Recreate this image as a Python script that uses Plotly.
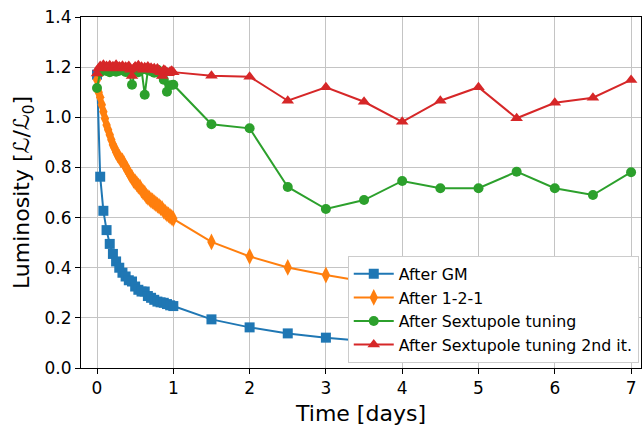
import plotly.graph_objects as go

# ---------------- data ----------------
# After GM: hourly during first day, then every 12 h
gm_t = [k / 24 for k in range(25)] + [1.5, 2.0, 2.5, 3.0, 3.5]
gm_L = [1.17, 0.763, 0.627, 0.550, 0.495, 0.455, 0.425, 0.400, 0.380, 0.365,
        0.350, 0.345, 0.325, 0.312, 0.305, 0.305, 0.287, 0.280, 0.272, 0.265,
        0.262, 0.260, 0.255, 0.250, 0.247,
        0.194, 0.162, 0.138, 0.121, 0.108]

# After 1-2-1: every 30 min during first day
o121_t = [k / 48 for k in range(49)] + [1.5, 2.0, 2.5, 3.0, 3.5]
o121_L = [1.15, 1.10, 1.08, 1.05, 1.022, 0.995, 0.969, 0.950, 0.930, 0.910,
          0.890, 0.878, 0.862, 0.850, 0.842, 0.830, 0.826, 0.815, 0.802, 0.792,
          0.780, 0.768, 0.760, 0.748, 0.742, 0.735, 0.726, 0.722, 0.710, 0.702,
          0.697, 0.686, 0.681, 0.676, 0.669, 0.666, 0.660, 0.656, 0.650, 0.646,
          0.640, 0.636, 0.626, 0.621, 0.615, 0.611, 0.605, 0.601, 0.595,
          0.503, 0.445, 0.401, 0.371, 0.345]

# After Sextupole tuning: hourly during first day, then every 12 h
sext_t = [k / 24 for k in range(25)] + [1.5, 2.0, 2.5, 3.0, 3.5, 4.0, 4.5,
                                        5.0, 5.5, 6.0, 6.5, 7.0]
sext_L = [1.117, 1.180, 1.188, 1.185, 1.180, 1.190, 1.182, 1.186, 1.190, 1.181,
          1.180, 1.130, 1.186, 1.180, 1.190, 1.090, 1.188, 1.184, 1.178, 1.190,
          1.172, 1.150, 1.102, 1.128, 1.130,
          0.972, 0.956, 0.722, 0.634, 0.670, 0.746, 0.717, 0.717, 0.783, 0.717,
          0.690, 0.781]

# After Sextupole tuning 2nd it.: every 30 min during first day
sext2_t = [k / 48 for k in range(49)] + [1.5, 2.0, 2.5, 3.0, 3.5, 4.0, 4.5,
                                         5.0, 5.5, 6.0, 6.5, 7.0]
sext2_L = [1.175, 1.195, 1.205, 1.198, 1.210, 1.196, 1.205, 1.200, 1.208, 1.195,
           1.204, 1.198, 1.210, 1.196, 1.203, 1.199, 1.206, 1.195, 1.202, 1.198,
           1.205, 1.190, 1.165, 1.195, 1.203, 1.197, 1.208, 1.196, 1.202, 1.190,
           1.200, 1.195, 1.203, 1.192, 1.198, 1.190, 1.196, 1.188, 1.195, 1.185,
           1.180, 1.165, 1.190, 1.186, 1.180, 1.176, 1.183, 1.186, 1.180,
           1.166, 1.162, 1.066, 1.120, 1.062, 0.982, 1.066, 1.120, 0.996, 1.058,
           1.078, 1.149]

names = ["After GM", "After 1-2-1", "After Sextupole tuning",
         "After Sextupole tuning 2nd it."]
colors = ["#1f77b4", "#ff7f0e", "#2ca02c", "#d62728"]
symbols = ["square", "diamond-tall", "circle", "triangle-up"]
sizes = [10, 12, 10, 11]

FONT = "DejaVu Sans"

fig = go.Figure()
series = [(gm_t, gm_L), (o121_t, o121_L), (sext_t, sext_L), (sext2_t, sext2_L)]
for i, (t, L) in enumerate(series):
    fig.add_trace(go.Scatter(
        x=t, y=L, mode="lines+markers", name=names[i],
        legendgroup=f"g{i}",
        line=dict(color=colors[i], width=2),
        marker=dict(color=colors[i], symbol=symbols[i], size=sizes[i],
                    line=dict(width=0)),
    ))

fig.update_layout(
    width=642, height=428,
    margin=dict(l=81, r=1, t=17, b=60),
    plot_bgcolor="white", paper_bgcolor="white",
    font=dict(family=FONT, color="black", size=17),
    showlegend=True,
    legend=dict(
        x=0.996, y=0.014, xanchor="right", yanchor="bottom",
        bgcolor="rgba(255,255,255,1)", bordercolor="#cccccc", borderwidth=1,
        font=dict(family=FONT, size=15.8, color="black"),
        tracegroupgap=0, itemwidth=40,
    ),
    xaxis=dict(
        range=[-0.21, 7.13], tickmode="array", tickvals=list(range(8)),
        ticktext=[str(v) for v in range(8)],
        showgrid=True, gridcolor="#c4c4c4", gridwidth=1, zeroline=False,
        showline=True, linecolor="black", linewidth=1, mirror=True,
        ticks="outside", ticklen=5, tickcolor="black",
        tickfont=dict(family=FONT, size=17),
        title=dict(text="Time [days]", font=dict(family=FONT, size=22),
                   standoff=8),
    ),
    yaxis=dict(
        range=[0, 1.4], tickmode="array",
        tickvals=[0, 0.2, 0.4, 0.6, 0.8, 1.0, 1.2, 1.4],
        ticktext=["0.0", "0.2", "0.4", "0.6", "0.8", "1.0", "1.2", "1.4"],
        showgrid=True, gridcolor="#c4c4c4", gridwidth=1, zeroline=False,
        showline=True, linecolor="black", linewidth=1, mirror=True,
        ticks="outside", ticklen=5, tickcolor="black",
        tickfont=dict(family=FONT, size=17),
        title=dict(text="Luminosity [ℒ/ℒ<sub>0</sub>]",
                   font=dict(family=FONT, size=22), standoff=8),
    ),
)

fig.write_html(
    "out.html",
    config={"displayModeBar": False},
    post_script="document.body.style.margin='0';document.body.style.overflow='hidden';",
)
